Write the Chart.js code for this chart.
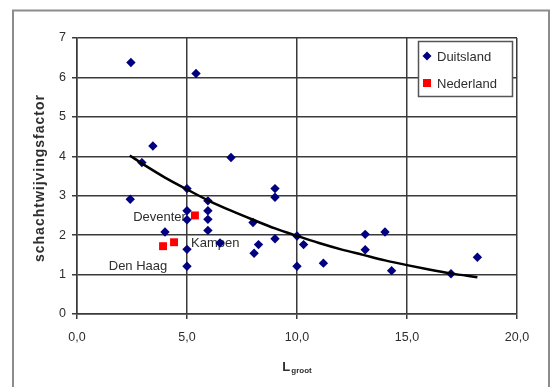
<!DOCTYPE html>
<html>
<head>
<meta charset="utf-8">
<script src="https://cdn.jsdelivr.net/npm/chart.js@4.4.0/dist/chart.umd.min.js"></script>
<style>
html,body{margin:0;padding:0;background:#fff;}
#c{display:block;}
</style>
</head>
<body>
<canvas id="c" width="554" height="387"></canvas>
<script>
// Duitsland
const duitslandX = [2.45,5.41,3.45,2.95,7.0,2.42,5.0,5.0,5.0,5.0,5.0,4.0,5.95,5.95,5.95,5.95,6.5,8.0,8.05,8.25,9.0,9.0,9.0,10.0,10.0,10.3,11.2,13.1,13.1,14.0,14.3,17.0,18.2];
const duitslandY = [6.38,6.10,4.26,3.84,3.97,2.91,3.18,2.62,2.39,1.64,1.21,2.08,2.87,2.62,2.40,2.12,1.80,2.32,1.54,1.76,3.18,2.96,1.91,1.21,1.98,1.76,1.29,2.02,1.63,2.08,1.10,1.02,1.44];
// Nederland
const nederlandX = [3.91,4.41,5.36];
const nederlandY = [1.72,1.82,2.50];
const nederlandLabels = ['Den Haag','Kampen','Deventer'];
// trend line
const trendX = [2.4,3,4,5,6,7,8,9,10,11,12,13,14,15,16,17,18.2];
const trendY = [4.02,3.80,3.46,3.16,2.87,2.62,2.39,2.17,1.98,1.80,1.64,1.50,1.36,1.24,1.13,1.03,0.93];
const xTicks = [0,5,10,15,20];
const yTicks = [0,1,2,3,4,5,6,7];
const seriesNames = ['Duitsland','Nederland'];
const yTitle = 'schachtwijvingsfactor';
const xTitleMain = 'L';
const xTitleSub = 'groot';

const FONT = "'Liberation Sans', Arial, sans-serif";
const GRID = '#3a3a3a';
const TXT = '#2e2e2e';

const zip = (xs, ys) => xs.map((x, i) => ({x, y: ys[i]}));

const labelOffsets = [ {dx:-25, dy:20, align:'center'}, {dx:17, dy:1, align:'left'}, {dx:-9, dy:2, align:'right'} ];

const borderPlugin = {
  id: 'outerBorder',
  beforeDraw(chart) {
    const ctx = chart.ctx;
    ctx.save();
    ctx.fillStyle = '#fff';
    ctx.fillRect(0, 0, chart.width, chart.height);
    ctx.strokeStyle = '#8c8c8c';
    ctx.lineWidth = 2;
    ctx.strokeRect(13, 10.5, 536, 400);
    ctx.restore();
  }
};

const pointLabelPlugin = {
  id: 'pointLabels',
  beforeDatasetsDraw(chart) {
    const ctx = chart.ctx;
    const meta = chart.getDatasetMeta(1);
    ctx.save();
    ctx.font = '13px ' + FONT;
    ctx.fillStyle = TXT;
    ctx.textBaseline = 'middle';
    meta.data.forEach((pt, i) => {
      const o = labelOffsets[i];
      ctx.textAlign = o.align;
      ctx.fillText(nederlandLabels[i], pt.x + o.dx, pt.y + o.dy);
    });
    ctx.restore();
  }
};

const legendPlugin = {
  id: 'boxLegend',
  afterDraw(chart) {
    const ctx = chart.ctx;
    ctx.save();
    const bx = 418.5, by = 41.5, bw = 94, bh = 55;
    ctx.fillStyle = '#fff';
    ctx.fillRect(bx, by, bw, bh);
    ctx.strokeStyle = '#555';
    ctx.lineWidth = 1.5;
    ctx.strokeRect(bx, by, bw, bh);
    ctx.font = '13px ' + FONT;
    ctx.fillStyle = TXT;
    ctx.textBaseline = 'middle';
    ctx.textAlign = 'left';
    const rows = [56, 83];
    chart.data.datasets.slice(0, 2).forEach((ds, i) => {
      const cy = rows[i];
      ctx.fillStyle = ds.backgroundColor;
      ctx.beginPath();
      if (ds.pointStyle === 'rectRot') {
        ctx.moveTo(427, cy - 4.5); ctx.lineTo(431.5, cy); ctx.lineTo(427, cy + 4.5); ctx.lineTo(422.5, cy); ctx.closePath();
      } else {
        ctx.rect(423, cy - 4, 8, 8);
      }
      ctx.fill();
      ctx.fillStyle = TXT;
      ctx.fillText(ds.label, 437, cy + 1);
    });
    ctx.restore();
  }
};

const titlesPlugin = {
  id: 'axisTitles',
  afterDraw(chart) {
    const ctx = chart.ctx;
    const area = chart.chartArea;
    ctx.save();
    ctx.fillStyle = TXT;
    // x title with subscript
    ctx.textBaseline = 'alphabetic';
    ctx.textAlign = 'left';
    ctx.font = 'bold 13px ' + FONT;
    const w1 = ctx.measureText(xTitleMain).width;
    ctx.font = 'bold 8px ' + FONT;
    const w2 = ctx.measureText(xTitleSub).width;
    const cx = (area.left + area.right) / 2;
    const x0 = cx - (w1 + w2 + 1) / 2;
    ctx.font = 'bold 13px ' + FONT;
    ctx.fillText(xTitleMain, x0, 371);
    ctx.font = 'bold 8px ' + FONT;
    ctx.fillText(xTitleSub, x0 + w1 + 1, 373);
    // y title rotated
    ctx.translate(40, 178);
    ctx.rotate(-Math.PI / 2);
    ctx.font = 'bold 14px ' + FONT;
    if ('letterSpacing' in ctx) ctx.letterSpacing = '1px';
    ctx.textAlign = 'center';
    ctx.textBaseline = 'middle';
    ctx.fillText(yTitle, 0, 0);
    ctx.restore();
  }
};

new Chart(document.getElementById('c'), {
  type: 'scatter',
  data: {
    datasets: [
      {
        label: seriesNames[0],
        data: zip(duitslandX, duitslandY),
        pointStyle: 'rectRot',
        pointRadius: 4.7,
        pointHoverRadius: 4.7,
        backgroundColor: '#000080',
        borderColor: '#000080',
        borderWidth: 0,
        order: 2
      },
      {
        label: seriesNames[1],
        data: zip(nederlandX, nederlandY),
        pointStyle: 'rect',
        pointRadius: 5.6,
        pointHoverRadius: 5.6,
        backgroundColor: '#ff0000',
        borderColor: '#ff0000',
        borderWidth: 0,
        order: 3
      },
      {
        label: 'trend',
        type: 'line',
        data: zip(trendX, trendY),
        showLine: true,
        borderColor: '#000',
        borderWidth: 2.5,
        pointRadius: 0,
        cubicInterpolationMode: 'monotone',
        fill: false,
        order: 1
      }
    ]
  },
  options: {
    responsive: false,
    animation: false,
    events: [],
    layout: { padding: { left: 0, right: 37, top: 38, bottom: 0 } },
    plugins: {
      legend: { display: false },
      tooltip: { enabled: false }
    },
    scales: {
      x: {
        type: 'linear',
        min: 0, max: 20,
        afterBuildTicks(scale) { scale.ticks = xTicks.map(v => ({value: v})); },
        afterFit(scale) { scale.height = 73; },
        ticks: {
          padding: 11,
          color: TXT,
          font: { family: FONT, size: 12.5 },
          callback: v => v.toFixed(1).replace('.', ',')
        },
        grid: { color: GRID, lineWidth: 1.5, tickLength: 5, drawTicks: true },
        border: { display: true, color: GRID, width: 1.5 }
      },
      y: {
        min: 0, max: 7,
        afterBuildTicks(scale) { scale.ticks = yTicks.map(v => ({value: v})); },
        afterFit(scale) { scale.width = 77; },
        ticks: {
          padding: 6,
          color: TXT,
          font: { family: FONT, size: 12.5 },
          callback: v => String(v)
        },
        grid: { color: GRID, lineWidth: 1.5, tickLength: 5, drawTicks: true },
        border: { display: true, color: GRID, width: 1.5 }
      }
    }
  },
  plugins: [borderPlugin, pointLabelPlugin, legendPlugin, titlesPlugin]
});
</script>
</body>
</html>
